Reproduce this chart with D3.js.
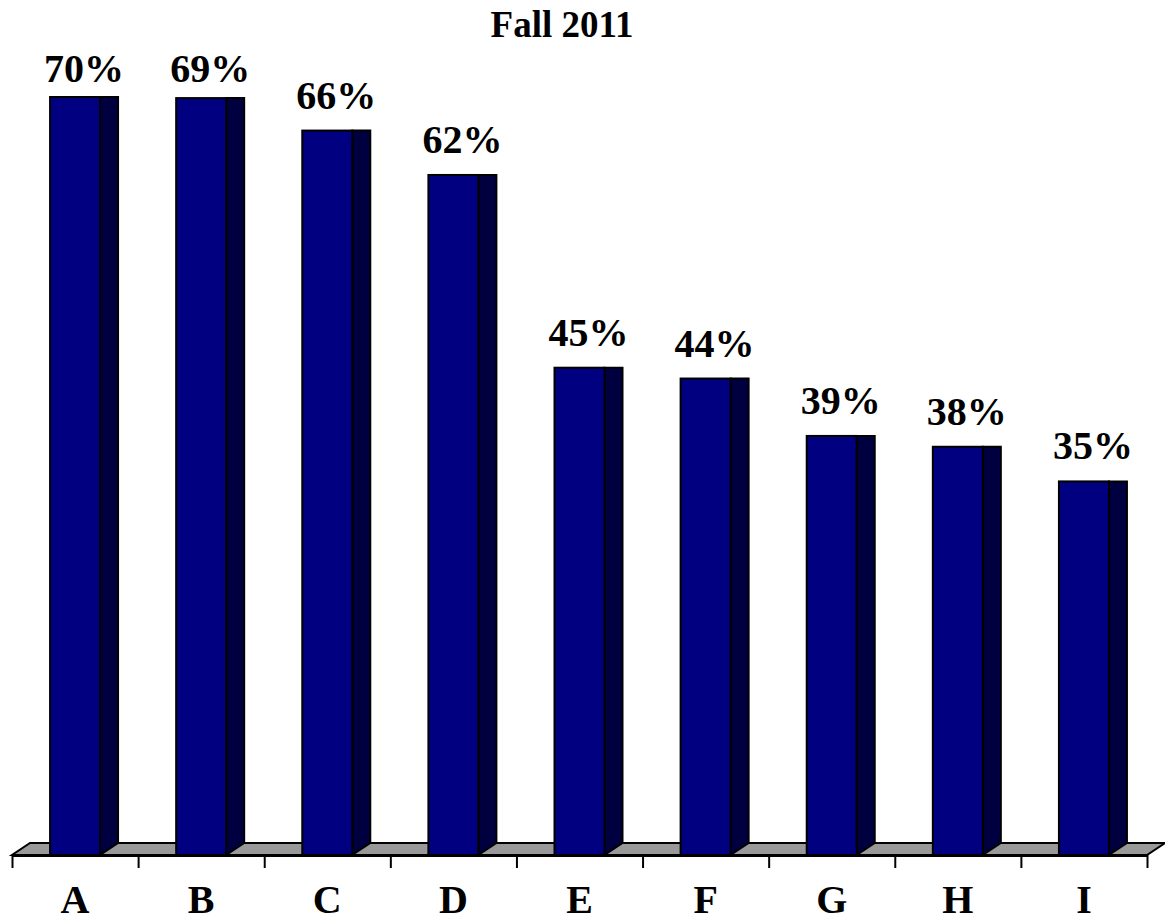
<!DOCTYPE html>
<html lang="en">
<head>
<meta charset="utf-8">
<script src="https://cdn.jsdelivr.net/npm/d3@7"></script>
<style>
    body { margin: 0; background: #fff; }
    text { font-family: "Liberation Serif", "Times New Roman", serif; font-weight: bold; fill: #000; }
</style>
</head>
<body>
<script type="text/javascript">

    // data
    var categories = ["A", "B", "C", "D", "E", "F", "G", "H", "I"];
    var values = [70.0, 69.9, 66.9, 62.8, 45.0, 44.0, 38.7, 37.7, 34.5];
    var valueLabels = ["70%", "69%", "66%", "62%", "45%", "44%", "39%", "38%", "35%"];
    var title = "Fall 2011";

    var svgWidth = 1165;
    var svgHeight = 921;

    var svg = d3.select("body").append("svg")
            .attr("width", svgWidth)
            .attr("height", svgHeight);

    /* plot area */
    var left = 12, right = 1147, floorY = 855;
    var depthX = 18, depthY = 12;   // 3d offset of the back plane
    var barWidth = 50;

    var x = d3.scaleBand()
            .domain(categories)
            .range([left, right])
            .paddingInner(0)
            .paddingOuter(0);

    var y = d3.scaleLinear()
            .domain([0, 70])
            .range([floorY, 97]);

    /* floor */
    svg.append("polygon")
            .attr("points", [[left, floorY], [right, floorY], [right + depthX, floorY - depthY], [left + depthX, floorY - depthY]].join(" "))
            .style("fill", "#999999")
            .style("stroke", "#000")
            .style("stroke-width", 2);

    /* boundary ticks */
    var tickScale = d3.scaleLinear().domain([0, categories.length]).range([left, right]);
    svg.append("g")
            .attr("transform", "translate(0," + floorY + ")")
            .call(d3.axisBottom(tickScale)
                    .ticks(categories.length)
                    .tickSize(13)
                    .tickSizeOuter(0)
                    .tickFormat(""))
            .call(function(g) {
                g.selectAll("line").style("stroke", "#000").style("stroke-width", 2);
                g.select(".domain").style("stroke", "#000").style("stroke-width", 3);
            });

    /* bars */
    var bars = svg.append("g").selectAll("g")
            .data(categories)
            .enter()
            .append("g");

    function frontX(d) {
        return x(d) + (x.bandwidth() - barWidth) / 2;
    }

    // side face
    bars.append("polygon")
            .attr("points", function(d, i) {
                var x0 = frontX(d) + barWidth;
                var top = y(values[i]);
                return [[x0, top], [x0 + depthX, top], [x0 + depthX, floorY - depthY], [x0, floorY]].join(" ");
            })
            .style("fill", "#000040")
            .style("stroke", "#000")
            .style("stroke-width", 2);

    // front face
    bars.append("rect")
            .attr("x", frontX)
            .attr("y", function(d, i) { return y(values[i]); })
            .attr("width", barWidth)
            .attr("height", function(d, i) { return floorY - y(values[i]); })
            .style("fill", "#000080")
            .style("stroke", "#000")
            .style("stroke-width", 2);

    /* value labels */
    bars.append("text")
            .attr("x", function(d) { return frontX(d) + barWidth / 2 + depthX / 2; })
            .attr("y", function(d, i) { return Math.max(y(values[i]) - 22, 82); })
            .attr("text-anchor", "middle")
            .style("font-size", "40px")
            .text(function(d, i) { return valueLabels[i]; });

    /* category labels */
    svg.append("g").selectAll("text")
            .data(categories)
            .enter()
            .append("text")
            .attr("x", function(d) { return x(d) + x.bandwidth() / 2; })
            .attr("y", 913)
            .attr("text-anchor", "middle")
            .style("font-size", "40px")
            .text(function(d) { return d; });

    /* title */
    svg.append("text")
            .attr("x", 562)
            .attr("y", 37)
            .attr("text-anchor", "middle")
            .style("font-size", "37px")
            .text(title);

</script>
</body>
</html>
